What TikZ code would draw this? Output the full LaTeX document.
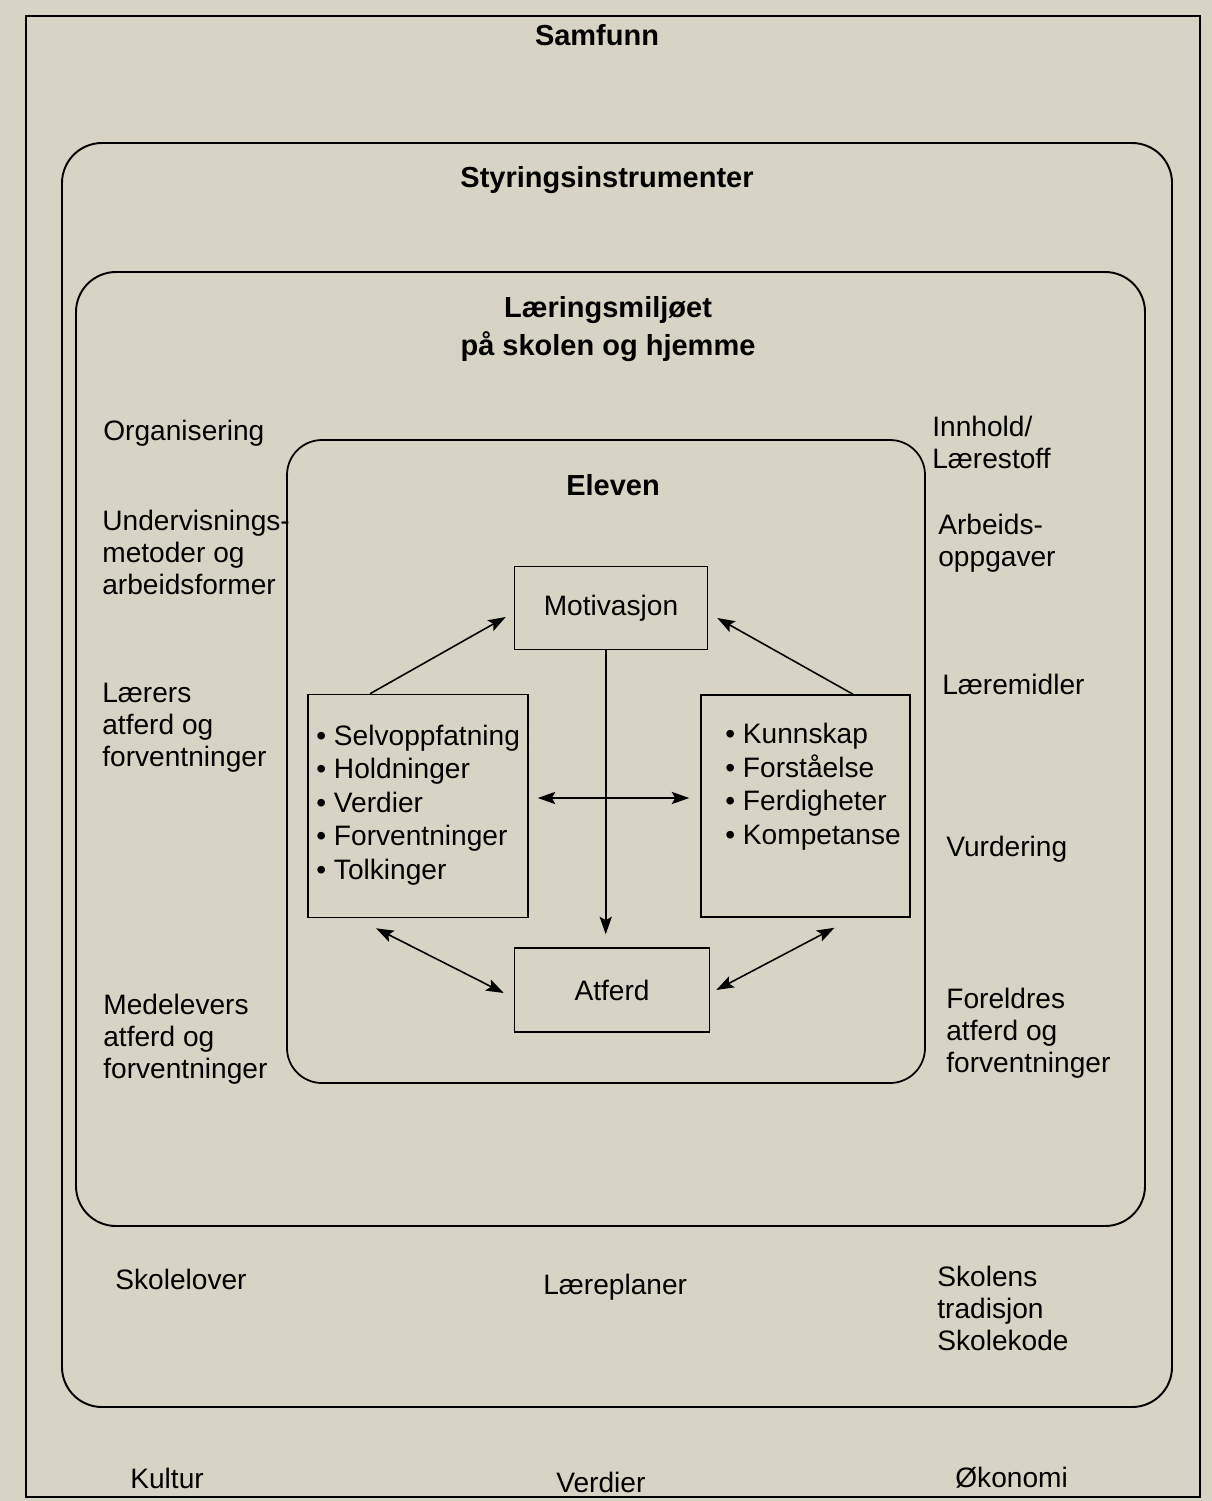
\documentclass[tikz,border=0pt]{standalone}
\usepackage{fontspec}
\setmainfont{Liberation Sans}
\usepackage{xcolor}
\usetikzlibrary{arrows.meta}
\definecolor{papir}{RGB}{216,212,197}

\begin{document}
\begin{tikzpicture}[x=0.02cm, y=-0.02cm,
    >={Stealth[length=10pt, width=7pt, inset=2pt]},
    tekst/.style={font=\fontsize{16}{18}\selectfont, inner sep=0pt},
    tittel/.style={font=\bfseries\fontsize{16.5}{18}\selectfont, inner sep=0pt},
    boks/.style={draw, line width=0.9pt, inner sep=0pt},
    pil/.style={line width=0.9pt}]
    \useasboundingbox (0,0) rectangle (1212,1501);
    \fill[papir] (0,0) rectangle (1212,1501);    % 纸张底色
    \draw[line width=0.8pt] (26,16) rectangle (1200,1497);    % 外框 Samfunn

    \draw[line width=1.1pt, rounded corners=0.8cm] (62,143) rectangle (1172,1407);    % Styringsinstrumenter
    \draw[line width=1.1pt, rounded corners=0.8cm] (76,272) rectangle (1145,1226);    % Læringsmiljøet
    \draw[line width=1pt, rounded corners=0.7cm] (287,440) rectangle (925,1083);    % Eleven

    \node[tittel, anchor=base] (samfunn) at (597,45) {Samfunn};
    \node[tittel, anchor=base] (styring) at (607,187) {Styringsinstrumenter};
    \node[
        tittel,
        anchor = base,    % 多行时 base 是最后一行的基线
        align = center,
        font = \bfseries\fontsize{16.5}{21.5}\selectfont
        ] (miljo) at (608,355) {Læringsmiljøet\\på skolen og hjemme};
    \node[tittel, anchor=base] (eleven) at (613,495) {Eleven};

    % 左侧
    \node[tekst, anchor=base west] (org) at (103,440) {Organisering};
    \node[tekst, anchor=base west, align=left] (underv) at (102,594) {Undervisnings-\\metoder og\\arbeidsformer};
    \node[tekst, anchor=base west, align=left] (laerers) at (102,766) {Lærers\\atferd og\\forventninger};
    \node[tekst, anchor=base west, align=left] (medel) at (103,1078) {Medelevers\\atferd og\\forventninger};
    % 右侧
    \node[tekst, anchor=base west, align=left] (innhold) at (932,468) {Innhold/\\Lærestoff};
    \node[tekst, anchor=base west, align=left] (arbeid) at (938,566) {Arbeids-\\oppgaver};
    \node[tekst, anchor=base west] (midler) at (942,694) {Læremidler};
    \node[tekst, anchor=base west] (vurd) at (946,856) {Vurdering};
    \node[tekst, anchor=base west, align=left] (foreldre) at (946,1072) {Foreldres\\atferd og\\forventninger};
    % 下方
    \node[tekst, anchor=base west] (lover) at (115,1289) {Skolelover};
    \node[tekst, anchor=base west] (planer) at (543,1294) {Læreplaner};
    \node[tekst, anchor=base west, align=left] (tradisjon) at (937,1350) {Skolens\\tradisjon\\Skolekode};
    \node[tekst, anchor=base west] (kultur) at (130,1488) {Kultur};
    \node[tekst, anchor=base west] (verdier) at (556,1492) {Verdier};
    \node[tekst, anchor=base west] (okonomi) at (955,1487) {Økonomi};

    % 中间的方框
    \node[boks, tekst, minimum width=3.86cm, minimum height=1.66cm] (motiv) at (611,608) {Motivasjon};
    \node[boks, tekst, minimum width=3.9cm, minimum height=1.68cm] (atferd) at (612,990) {Atferd};
    \node[boks, minimum width=4.4cm, minimum height=4.46cm] (selvbox) at (418,806) {};
    \node[boks, minimum width=4.18cm, minimum height=4.44cm] (kunnbox) at (805.5,806) {};
    \node[
        tekst,
        anchor = base west,
        align = left,
        font = \fontsize{16}{19}\selectfont
        ] (selv) at (316,879) {\textbullet\ Selvoppfatning\\\textbullet\ Holdninger\\\textbullet\ Verdier\\\textbullet\ Forventninger\\\textbullet\ Tolkinger};
    \node[
        tekst,
        anchor = base west,
        align = left,
        font = \fontsize{16}{19}\selectfont
        ] (kunn) at (725,844) {\textbullet\ Kunnskap\\\textbullet\ Forståelse\\\textbullet\ Ferdigheter\\\textbullet\ Kompetanse};

    % 箭头
    \draw[pil, ->] ([xshift=-0.96cm]selvbox.north) -- ([shift={(-8,9)}]motiv.west);
    \draw[pil, ->] ([xshift=0.95cm]kunnbox.north) -- ([shift={(9,10)}]motiv.east);
    \draw[pil, ->, shorten >=13*0.02cm] ([xshift=-3]motiv.south) -- ([xshift=-3]motiv.south |- atferd.north);
    \draw[pil, <->] ([shift={(9,-8)}]selvbox.east) -- ([shift={(-11,-8)}]kunnbox.west);
    \draw[pil, <->] ([shift={(-42,10)}]selvbox.south) -- ([shift={(-10,3)}]atferd.west);
    \draw[pil, <->] ([shift={(29,10)}]kunnbox.south) -- ([shift={(6,0)}]atferd.east);
\end{tikzpicture}
\end{document}
